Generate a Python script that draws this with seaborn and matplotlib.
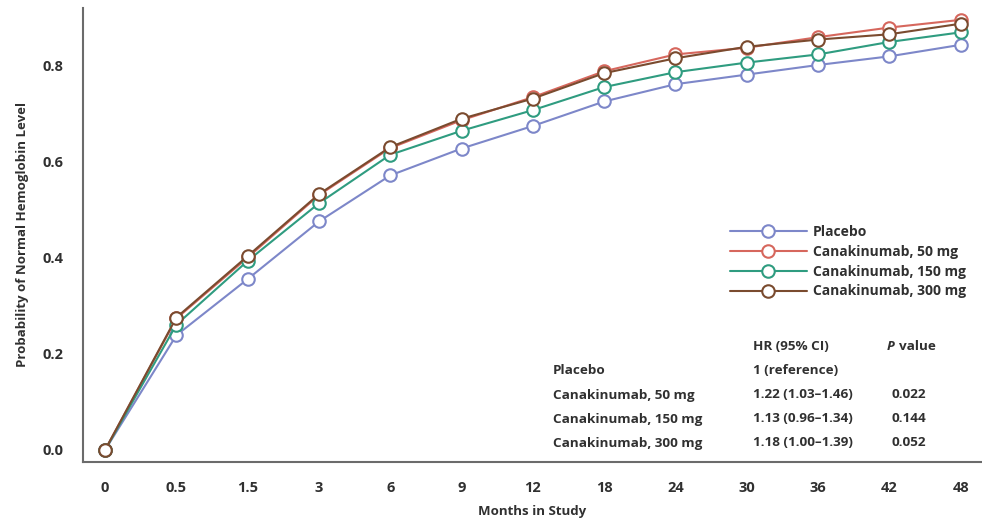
import matplotlib
matplotlib.use("Agg")
import matplotlib.pyplot as plt
import seaborn as sns
import pandas as pd

sns.set_theme(style="white")
plt.rcParams["font.family"] = ["Open Sans", "DejaVu Sans"]

# -------------------------------------------------------------
# Data
# -------------------------------------------------------------
months = ["0", "0.5", "1.5", "3", "6", "9", "12", "18", "24", "30", "36", "42", "48"]
groups = ["Placebo", "Canakinumab, 50 mg", "Canakinumab, 150 mg", "Canakinumab, 300 mg"]

placebo = [0.0, 0.239, 0.356, 0.476, 0.572, 0.628, 0.675, 0.726, 0.762, 0.782, 0.802, 0.820, 0.844]
cana_50 = [0.0, 0.274, 0.401, 0.531, 0.629, 0.687, 0.735, 0.789, 0.824, 0.838, 0.860, 0.880, 0.896]
cana_150 = [0.0, 0.261, 0.394, 0.514, 0.615, 0.665, 0.708, 0.756, 0.787, 0.807, 0.824, 0.850, 0.870]
cana_300 = [0.0, 0.276, 0.404, 0.533, 0.631, 0.690, 0.732, 0.785, 0.816, 0.840, 0.855, 0.866, 0.888]

colors = ["#7d87c9", "#d6675d", "#2f9c80", "#7a4b2f"]

hr_text = ["1 (reference)", "1.22 (1.03\u20131.46)", "1.13 (0.96\u20131.34)", "1.18 (1.00\u20131.39)"]
p_text = ["", "0.022", "0.144", "0.052"]

df = pd.DataFrame({
    "month": months * 4,
    "prob": placebo + cana_50 + cana_150 + cana_300,
    "group": sum([[g] * len(months) for g in groups], []),
})

# -------------------------------------------------------------
# Plot
# -------------------------------------------------------------
fig = plt.figure(figsize=(9.82, 5.25), dpi=100)
ax = fig.add_axes([0.0845, 0.12, 0.9155, 0.865])

sns.pointplot(
    data=df, x="month", y="prob", hue="group", order=months, hue_order=groups,
    palette=colors, errorbar=None, markers="o", linestyles="-", ax=ax,
    linewidth=1.5, markersize=9, markerfacecolor="white", markeredgewidth=1.5,
)

for line in ax.lines:
    line.set_markerfacecolor("white")

ax.set_xlim(-0.31, 12.3)
ax.set_ylim(-0.025, 0.921)
ax.set_yticks([0.0, 0.2, 0.4, 0.6, 0.8])
ax.set_yticklabels(["0.0", "0.2", "0.4", "0.6", "0.8"])

axis_col = "#6b6b6b"
text_col = "#303030"
sns.despine(ax=ax, top=True, right=True)
for side in ["left", "bottom"]:
    ax.spines[side].set_color(axis_col)
    ax.spines[side].set_linewidth(1.5)
ax.tick_params(axis="both", which="major", direction="out", length=8, width=1.5,
               color=axis_col, labelsize=10.5, labelcolor=text_col, pad=6)
for lab in ax.get_xticklabels() + ax.get_yticklabels():
    lab.set_fontweight("bold")

ax.set_xlabel("Months in Study", fontsize=9.5, fontweight="bold", color=text_col, labelpad=7)
ax.set_ylabel("Probability of Normal Hemoglobin Level", fontsize=9.5,
              fontweight="bold", color=text_col, labelpad=10)

handles = ax.lines[:4]
leg = ax.legend(handles=handles, labels=groups, loc="upper left", bbox_to_anchor=(0.72, 0.522),
                frameon=False, handlelength=5.5, handletextpad=0.45, borderpad=0,
                borderaxespad=0, labelspacing=0.42, prop={"weight": "bold", "size": 10})
for t in leg.get_texts():
    t.set_color(text_col)

# HR table
tx = [553, 753, 891]
ty = [370, 395, 419, 443]
def to_fig(px, py):
    return px / 982, 1 - py / 525

txt_kw = dict(fontsize=9.7, fontweight="bold", color=text_col, va="center", ha="left")
fig.text(*to_fig(753, 346), "HR (95% CI)", **txt_kw)
fig.text(*to_fig(887, 346), "P", fontstyle="italic", **txt_kw)
fig.text(*to_fig(899, 346), "value", **txt_kw)
for i, g in enumerate(groups):
    fig.text(*to_fig(tx[0], ty[i]), g, **txt_kw)
    fig.text(*to_fig(tx[1], ty[i]), hr_text[i], **txt_kw)
    if p_text[i]:
        fig.text(*to_fig(tx[2], ty[i]), p_text[i], **txt_kw)

fig.savefig("out.png", dpi=100)
